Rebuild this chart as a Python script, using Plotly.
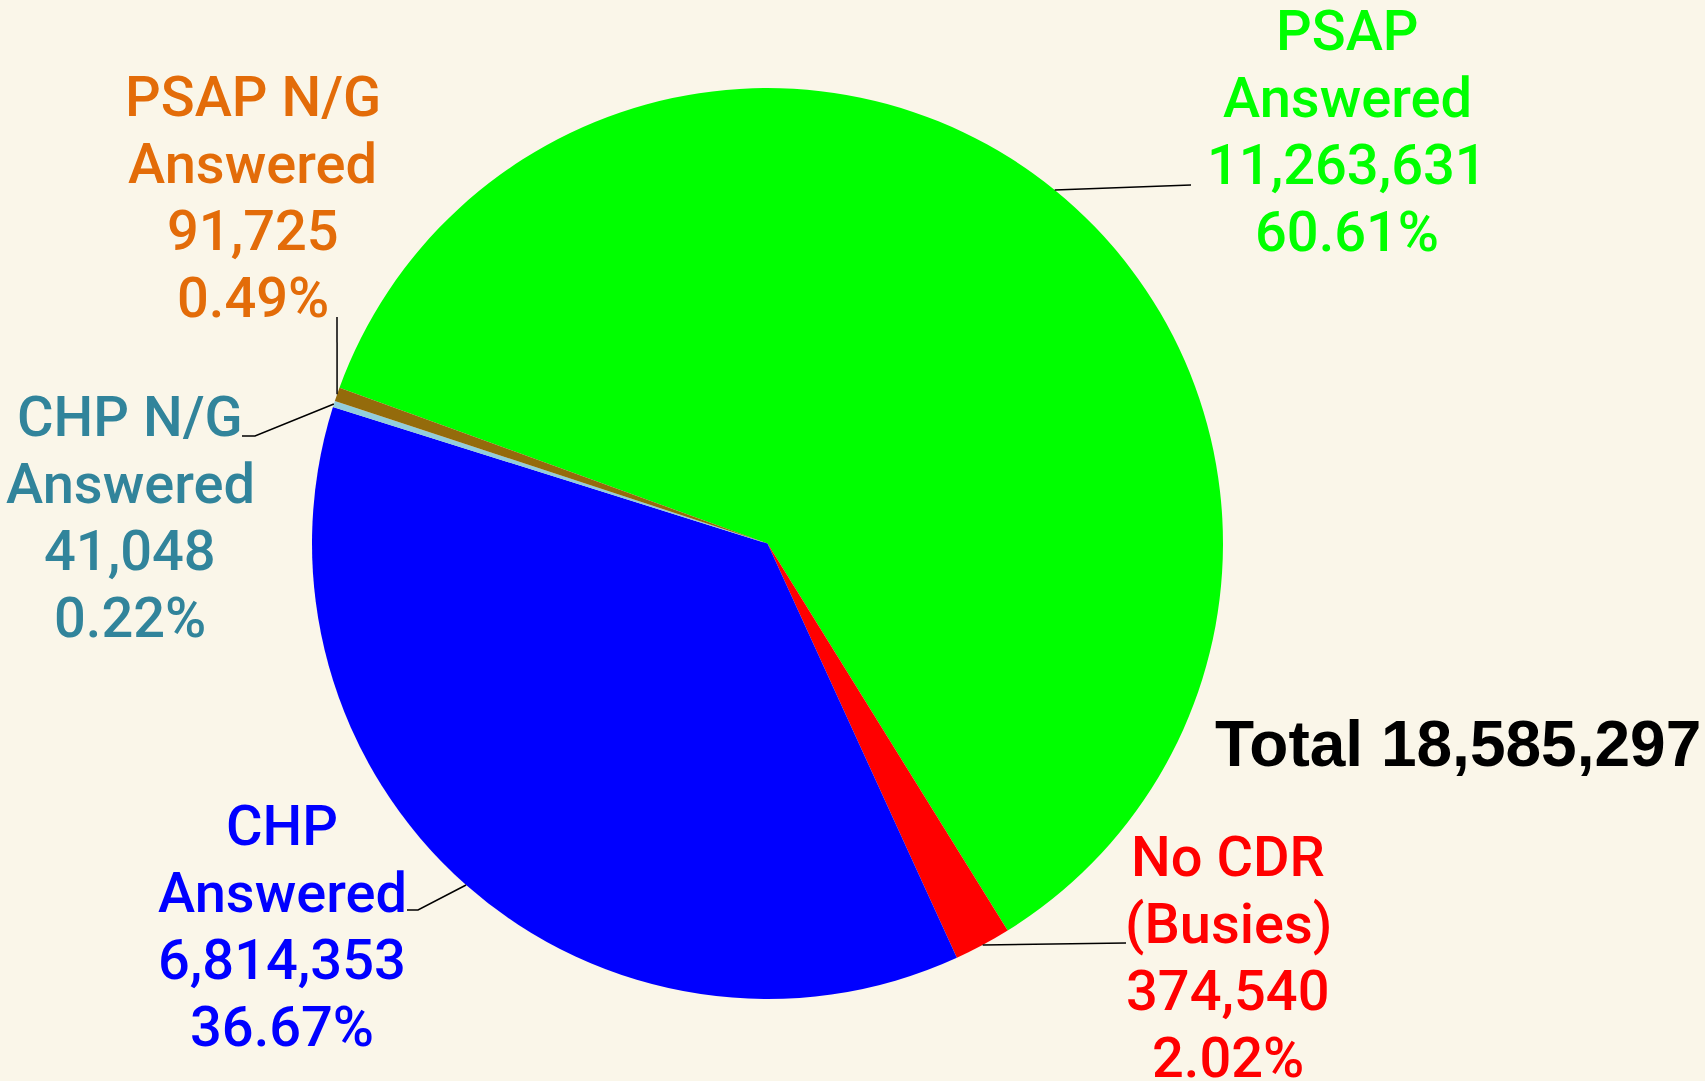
import math
import plotly.graph_objects as go

# ---- data ----
categories = ["PSAP Answered", "No CDR (Busies)", "CHP Answered", "CHP N/G Answered", "PSAP N/G Answered"]
label_lines = [["PSAP", "Answered"], ["No CDR", "(Busies)"], ["CHP", "Answered"],
               ["CHP N/G", "Answered"], ["PSAP N/G", "Answered"]]
values = [11263631, 374540, 6814353, 41048, 91725]
percent_labels = ["60.61%", "2.02%", "36.67%", "0.22%", "0.49%"]
slice_colors = ["#00FF00", "#FF0000", "#0000FF", "#92CDDC", "#946B0B"]
text_colors = ["#00FF00", "#FF0000", "#0000FF", "#31849B", "#E36C09"]
total_value = sum(values)

# ---- layout geometry ----
W, H = 1705, 1081
BG = "#FAF6E9"
dom_x = [312 / W, 1223 / W]
dom_y = [1 - 1000 / H, 1 - 87 / H]
ROT = 290  # degrees clockwise from 12 o'clock where first slice starts

cx = (dom_x[0] + dom_x[1]) / 2 * W
cy = (1 - (dom_y[0] + dom_y[1]) / 2) * H
R = min((dom_x[1] - dom_x[0]) * W, (dom_y[1] - dom_y[0]) * H) / 2

# label placement: (center x, first-line center y) in pixels, line gap; leader line bends
label_pos = [(1347, 31), (1228, 857), (282, 826), (130, 417), (253, 97)]
LINE_GAP = 67
leader_pts = [[(1191, 185)], [(1126, 943)], [(418, 910), (407, 910)],
              [(255, 436), (242, 436)], [(337, 317)]]

LABEL_FONT = "Roboto, Liberation Sans, Arial, sans-serif"

fig = go.Figure(go.Pie(
    labels=categories, values=values, sort=False, direction="clockwise",
    rotation=ROT, marker=dict(colors=slice_colors, line=dict(width=0)),
    textinfo="none", hoverinfo="label+value+percent",
    domain=dict(x=dom_x, y=dom_y), showlegend=False,
))

def px2paper(x, y):
    return x / W, 1 - y / H

shapes = []
annotations = []
cum = 0
for i, v in enumerate(values):
    mid = ROT + (cum + v / 2) / total_value * 360
    cum += v
    a = math.radians(mid)
    ax_, ay_ = cx + R * math.sin(a), cy - R * math.cos(a)
    pts = [(ax_, ay_)] + leader_pts[i]
    path = "M " + " L ".join(f"{px2paper(x, y)[0]},{px2paper(x, y)[1]}" for x, y in pts)
    shapes.append(dict(type="path", xref="paper", yref="paper", path=path,
                       line=dict(color="black", width=1.5)))
    lines = label_lines[i] + [f"{v:,}", percent_labels[i]]
    x0, y0 = label_pos[i]
    for k, line in enumerate(lines):
        lx, ly = px2paper(x0, y0 + k * LINE_GAP)
        annotations.append(dict(x=lx, y=ly, xref="paper", yref="paper", text=line,
                                showarrow=False, xanchor="center", yanchor="middle",
                                align="center",
                                font=dict(family=LABEL_FONT, weight=500,
                                          size=56, color=text_colors[i])))

tx, ty = px2paper(1458, 744)
annotations.append(dict(x=tx, y=ty, xref="paper", yref="paper",
                        text=f"<b>Total {total_value:,}</b>", showarrow=False,
                        xanchor="center", yanchor="middle",
                        font=dict(family="Liberation Sans, Arial, sans-serif",
                                  size=64, color="black")))

fig.update_layout(width=W, height=H, margin=dict(l=0, r=0, t=0, b=0),
                  paper_bgcolor=BG, plot_bgcolor=BG,
                  shapes=shapes, annotations=annotations)

fig.write_html("out.html", config={"displayModeBar": False},
               post_script="document.body.style.margin='0';document.body.style.background='" + BG + "';")
